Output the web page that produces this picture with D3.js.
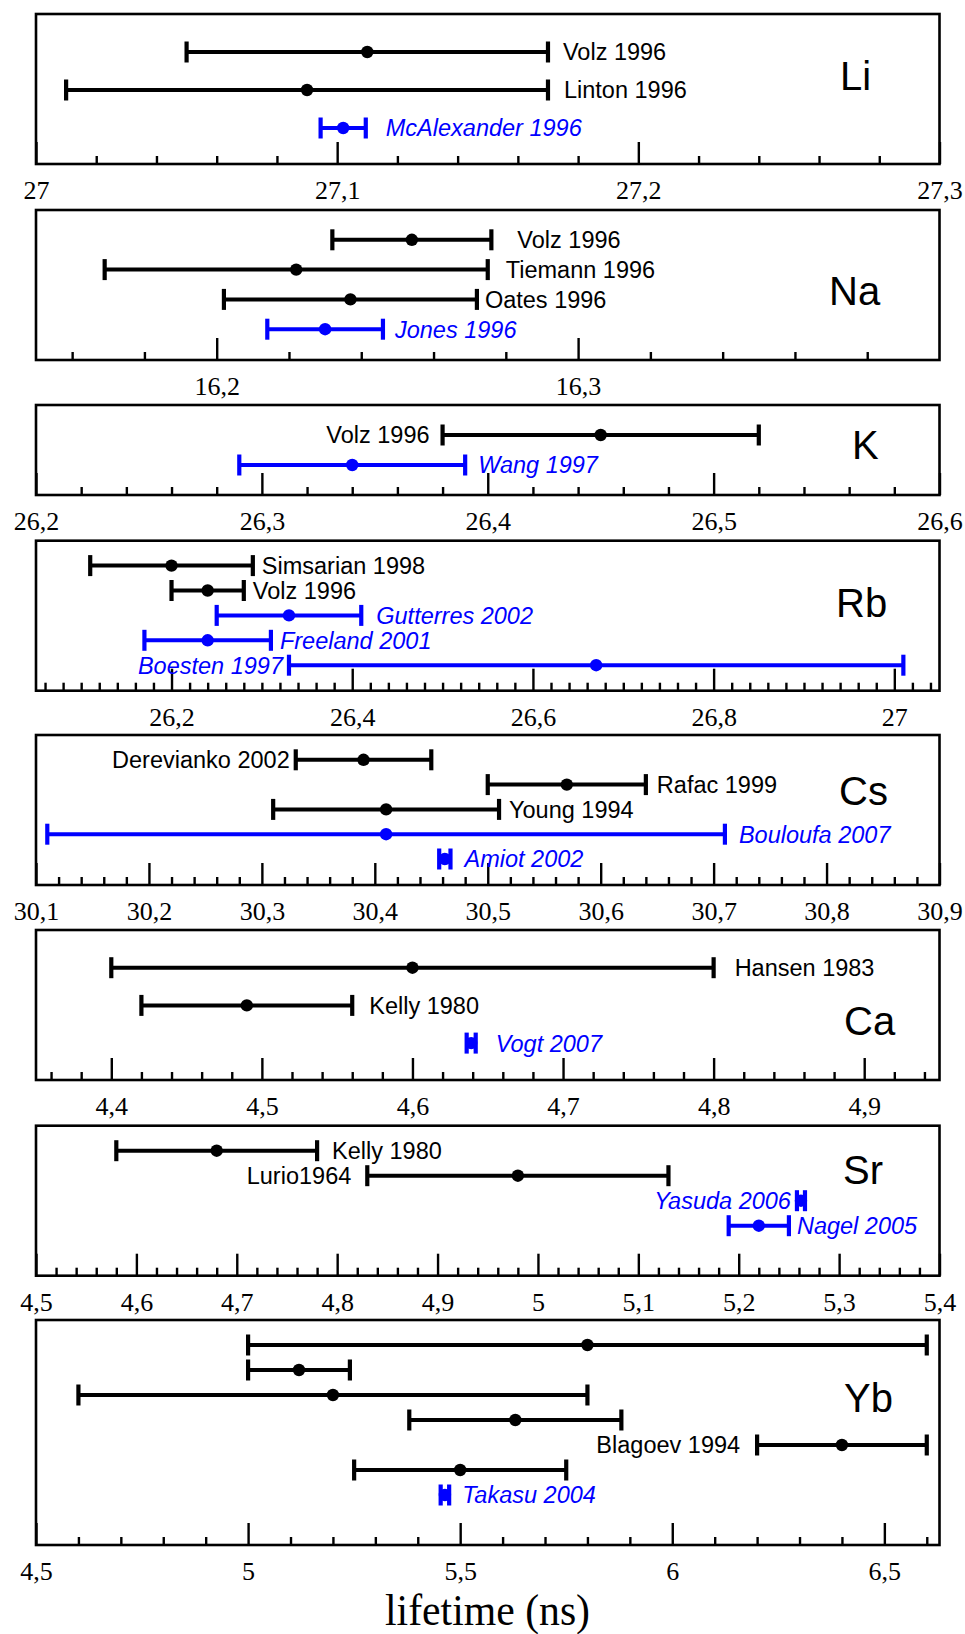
<!DOCTYPE html>
<html>
<head>
<meta charset="utf-8">
<script src="https://cdn.jsdelivr.net/npm/d3@7"></script>
<style>
  body { margin: 0; background: #fff; }
</style>
</head>
<body>
<div id="plot"></div>
<script>
// lifetimes in ns, value and half-width of the error bar
// kind 1 = the blue (photoassociation) measurements
let liRefs = ["Volz 1996", "Linton 1996", "McAlexander 1996"]
let liTau = [27.11, 27.09, 27.102]
let liErr = [0.06, 0.08, 0.0075]
let liKind = [0, 0, 1]
let liTicks = [27, 27.1, 27.2, 27.3]

let naRefs = ["Volz 1996", "Tiemann 1996", "Oates 1996", "Jones 1996"]
let naTau = [16.254, 16.222, 16.237, 16.230]
let naErr = [0.022, 0.053, 0.035, 0.016]
let naKind = [0, 0, 0, 1]
let naTicks = [16.2, 16.3]

let kRefs = ["Volz 1996", "Wang 1997"]
let kTau = [26.45, 26.34]
let kErr = [0.07, 0.05]
let kKind = [0, 1]
let kTicks = [26.2, 26.3, 26.4, 26.5, 26.6]

let rbRefs = ["Simsarian 1998", "Volz 1996", "Gutterres 2002", "Freeland 2001", "Boesten 1997"]
let rbTau = [26.20, 26.24, 26.33, 26.24, 26.67]
let rbErr = [0.09, 0.04, 0.08, 0.07, 0.34]
let rbKind = [0, 0, 1, 1, 1]
let rbTicks = [26.2, 26.4, 26.6, 26.8, 27]

let csRefs = ["Derevianko 2002", "Rafac 1999", "Young 1994", "Bouloufa 2007", "Amiot 2002"]
let csTau = [30.39, 30.57, 30.41, 30.41, 30.462]
let csErr = [0.06, 0.07, 0.10, 0.30, 0.005]
let csKind = [0, 0, 0, 1, 1]
let csTicks = [30.1, 30.2, 30.3, 30.4, 30.5, 30.6, 30.7, 30.8, 30.9]

let caRefs = ["Hansen 1983", "Kelly 1980", "Vogt 2007"]
let caTau = [4.60, 4.49, 4.639]
let caErr = [0.20, 0.07, 0.003]
let caKind = [0, 0, 1]
let caTicks = [4.4, 4.5, 4.6, 4.7, 4.8, 4.9]

let srRefs = ["Kelly 1980", "Lurio1964", "Yasuda 2006", "Nagel 2005"]
let srTau = [4.68, 4.98, 5.262, 5.22]
let srErr = [0.10, 0.15, 0.004, 0.03]
let srKind = [0, 0, 1, 1]
let srTicks = [4.5, 4.6, 4.7, 4.8, 4.9, 5, 5.1, 5.2, 5.3, 5.4]

let ybRefs = ["", "", "", "", "Blagoev 1994", "", "Takasu 2004"]
let ybTau = [5.8, 5.12, 5.2, 5.63, 6.4, 5.5, 5.464]
let ybErr = [0.8, 0.12, 0.6, 0.25, 0.2, 0.25, 0.01]
let ybKind = [0, 0, 0, 0, 0, 0, 1]
let ybTicks = [4.5, 5, 5.5, 6, 6.5]

let svgWidth = 965
let svgHeight = 1634
let left = 36
let right = 939.5
let blue = "#0000ff"
let serif = "'Liberation Serif', 'Times New Roman', serif"
let sans = "'Liberation Sans', Arial, sans-serif"

// panel geometry and label placement (side: 1 right of bar, -1 left of bar)
let panels = [
  {el: "Li", refs: liRefs, tau: liTau, err: liErr, kind: liKind, ticks: liTicks,
   domain: [27, 27.3], minor: 0.02, top: 14, height: 150, step: 38, elX: 840, elY: 76,
   side: [1, 1, 1], gap: [15, 16, 20]},
  {el: "Na", refs: naRefs, tau: naTau, err: naErr, kind: naKind, ticks: naTicks,
   domain: [16.15, 16.4], minor: 0.02, top: 210, height: 150, step: 29.8, elX: 829, elY: 95,
   side: [1, 1, 1, 1], gap: [26, 18, 8, 12]},
  {el: "K", refs: kRefs, tau: kTau, err: kErr, kind: kKind, ticks: kTicks,
   domain: [26.2, 26.6], minor: 0.02, top: 405, height: 90, step: 30, elX: 852, elY: 54,
   side: [-1, 1], gap: [13, 13]},
  {el: "Rb", refs: rbRefs, tau: rbTau, err: rbErr, kind: rbKind, ticks: rbTicks,
   domain: [26.05, 27.05], minor: 0.02, top: 540.7, height: 150, step: 24.9, elX: 836, elY: 76,
   side: [1, 1, 1, 1, -1], gap: [9, 9, 15, 9, 6]},
  {el: "Cs", refs: csRefs, tau: csTau, err: csErr, kind: csKind, ticks: csTicks,
   domain: [30.1, 30.9], minor: 0.02, top: 735, height: 150, step: 24.8, elX: 839, elY: 70,
   side: [-1, 1, 1, 1, 1], gap: [6, 11, 10, 14, 14]},
  {el: "Ca", refs: caRefs, tau: caTau, err: caErr, kind: caKind, ticks: caTicks,
   domain: [4.35, 4.95], minor: 0.02, top: 930, height: 150, step: 37.7, elX: 844, elY: 105,
   side: [1, 1, 1], gap: [21, 17, 20]},
  {el: "Sr", refs: srRefs, tau: srTau, err: srErr, kind: srKind, ticks: srTicks,
   domain: [4.5, 5.4], minor: 0.02, top: 1125.7, height: 150, step: 25, elX: 843, elY: 58,
   side: [1, -1, -1, 1], gap: [15, 16, 6, 8]},
  {el: "Yb", refs: ybRefs, tau: ybTau, err: ybErr, kind: ybKind, ticks: ybTicks,
   domain: [4.5, 6.63], minor: 0.1, top: 1320, height: 225, step: 25, elX: 844, elY: 92,
   side: [1, 1, 1, 1, -1, 1, 1], gap: [0, 0, 0, 0, 17, 0, 13]}
]

let svg = d3.select("#plot")
  .append("svg")
  .attr("width", svgWidth)
  .attr("height", svgHeight)

let fmt = d => String(+d.toFixed(3)).replace(".", ",")

panels.forEach(function(p) {
  let x = d3.scaleLinear().domain(p.domain).range([left, right])
  let n = p.tau.length
  let y = d3.scalePoint()
    .domain(d3.range(n))
    .range([p.top + p.step, p.top + p.step * n])
  let bottom = p.top + p.height

  // minor ticks on multiples of the step, skipping the labelled ones
  let first = Math.ceil(p.domain[0] / p.minor - 1e-6)
  let last = Math.floor(p.domain[1] / p.minor + 1e-6)
  let minorVals = d3.range(first, last + 1)
    .map(i => +(i * p.minor).toFixed(4))
    .filter(v => v > p.domain[0] && v < p.domain[1])
    .filter(v => !p.ticks.some(t => Math.abs(t - v) < 1e-6))

  svg.append("g")
    .attr("transform", `translate(0, ${bottom})`)
    .call(d3.axisBottom(x).tickValues(minorVals).tickSize(-8).tickFormat(""))
    .call(g => g.select(".domain").remove())
    .selectAll("line").attr("stroke", "#000").attr("stroke-width", 2.4)

  let major = svg.append("g")
    .attr("transform", `translate(0, ${bottom})`)
    .call(d3.axisBottom(x).tickValues(p.ticks).tickSize(-22).tickPadding(16.5).tickFormat(fmt))
    .call(g => g.select(".domain").remove())
  major.attr("font-family", serif).attr("font-size", 26)
  major.selectAll("line").attr("stroke", "#000").attr("stroke-width", 2.4)
  major.selectAll("text").attr("fill", "#000")

  svg.append("rect")
    .attr("x", left)
    .attr("y", p.top)
    .attr("width", right - left)
    .attr("height", p.height)
    .attr("fill", "none")
    .attr("stroke", "#000")
    .attr("stroke-width", 2.6)

  svg.append("text")
    .attr("x", p.elX)
    .attr("y", p.top + p.elY)
    .attr("font-family", sans)
    .attr("font-size", 40)
    .text(p.el)

  let rows = d3.range(n).map(i => ({
    i: i, ref: p.refs[i], tau: p.tau[i], err: p.err[i], kind: p.kind[i],
    side: p.side[i], gap: p.gap[i]
  }))

  let bars = svg.append("g").selectAll("g")
    .data(rows)
    .enter()
    .append("g")
    .attr("stroke", d => d.kind ? blue : "#000")
    .attr("fill", d => d.kind ? blue : "#000")

  bars.append("line")
    .attr("x1", d => x(d.tau - d.err))
    .attr("x2", d => x(d.tau + d.err))
    .attr("y1", d => y(d.i))
    .attr("y2", d => y(d.i))
    .attr("stroke-width", 4)

  bars.selectAll(".cap")
    .data(d => [[d, d.tau - d.err], [d, d.tau + d.err]])
    .enter()
    .append("line")
    .attr("class", "cap")
    .attr("x1", c => x(c[1]))
    .attr("x2", c => x(c[1]))
    .attr("y1", c => y(c[0].i) - 10.5)
    .attr("y2", c => y(c[0].i) + 10.5)
    .attr("stroke-width", 4.2)

  bars.append("circle")
    .attr("cx", d => x(d.tau))
    .attr("cy", d => y(d.i))
    .attr("r", 6.2)
    .attr("stroke", "none")

  bars.filter(d => d.ref)
    .append("text")
    .attr("stroke", "none")
    .attr("x", d => d.side > 0 ? x(d.tau + d.err) + d.gap : x(d.tau - d.err) - d.gap)
    .attr("y", d => y(d.i))
    .attr("dy", "0.36em")
    .attr("text-anchor", d => d.side > 0 ? "start" : "end")
    .attr("font-family", sans)
    .attr("font-size", 23.5)
    .attr("font-style", d => d.kind ? "italic" : "normal")
    .text(d => d.ref)
})

svg.append("text")
  .attr("x", 487.5)
  .attr("y", 1625)
  .attr("text-anchor", "middle")
  .attr("font-family", serif)
  .attr("font-size", 44)
  .attr("textLength", 205)
  .attr("lengthAdjust", "spacingAndGlyphs")
  .text("lifetime (ns)")
</script>
</body>
</html>
